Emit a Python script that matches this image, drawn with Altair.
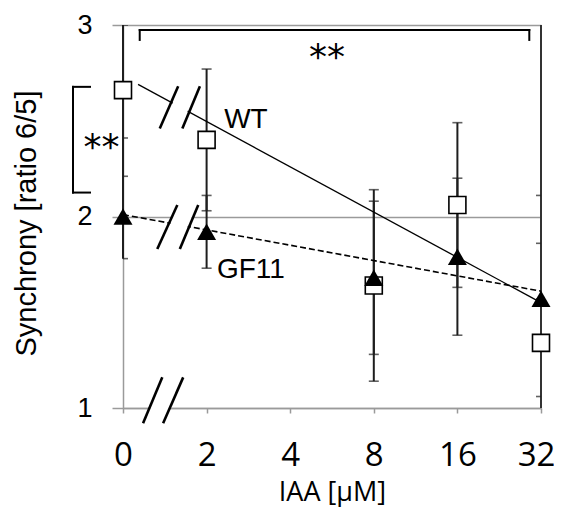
import altair as alt
import pandas as pd

# ---------------- data ----------------
conc_labels = ["0", "2", "4", "8", "16", "32"]      # IAA [µM], evenly spaced slots
conc_slot = [0, 1, 3, 4, 5]                          # slots of the measured concentrations 0,2,8,16,32
y_ticks = [1, 2, 3]

wt_mean = [2.66, 2.40, 1.64, 2.06, 1.34]
wt_low = [2.21, 2.03, 1.14, 1.63, 1.06]
wt_high = [3.00, 2.77, 2.14, 2.49, 1.86]

gf_mean = [2.00, 1.92, 1.68, 1.79, 1.57]
gf_low = [1.78, 1.73, 1.28, 1.38, 1.57]
gf_high = [2.41, 2.11, 2.08, 2.20, 2.11]

# linear trend lines (end points)
wt_trend_x = [0.18, 5.0]
wt_trend_y = [2.69, 1.55]
gf_trend_x = [0.0, 5.0]
gf_trend_y = [2.01, 1.61]

# axis-break "//" marks
slash_x1 = [0.44, 0.71, 0.41, 0.68, 0.24, 0.48]
slash_x2 = [0.66, 0.92, 0.65, 0.90, 0.47, 0.72]
slash_y1 = [2.46, 2.46, 1.83, 1.83, 0.92, 0.92]
slash_y2 = [2.68, 2.68, 2.06, 2.06, 1.16, 1.16]
gap_x1 = [0.575, 0.545, 0.36]
gap_x2 = [0.79, 0.775, 0.595]
gap_y1 = [2.46, 1.83, 0.92]
gap_y2 = [2.68, 2.06, 1.16]

# significance brackets
brk_x1 = [0.20, 0.20, 4.86, -0.598, -0.598, -0.598]
brk_x2 = [4.86, 0.20, 4.86, -0.598, -0.395, -0.395]
brk_y1 = [2.974, 2.974, 2.974, 2.677, 2.677, 2.125]
brk_y2 = [2.974, 2.922, 2.922, 2.125, 2.677, 2.125]
star_text = ["**", "**"]
star_x = [2.44, -0.257]
star_y = [2.77, 2.30]

label_text = ["WT", "GF11"]
label_x = [1.21, 1.124]
label_y = [2.46, 1.677]

# ---------------- tables ----------------
pts = pd.DataFrame({
    "slot": conc_slot * 2,
    "mean": wt_mean + gf_mean,
    "low": wt_low + gf_low,
    "high": wt_high + gf_high,
    "strain": ["WT"] * 5 + ["GF11"] * 5,
})
caps = pd.DataFrame({
    "slot": conc_slot * 4,
    "v": wt_low + wt_high + gf_low + gf_high,
})
wt_df = pd.DataFrame({"x": wt_trend_x, "y": wt_trend_y})
gf_df = pd.DataFrame({"x": gf_trend_x, "y": gf_trend_y})
slash_df = pd.DataFrame({"x": slash_x1, "x2": slash_x2, "y": slash_y1, "y2": slash_y2})
gap_df = pd.DataFrame({"x": gap_x1, "x2": gap_x2, "y": gap_y1, "y2": gap_y2})
brk_df = pd.DataFrame({"x": brk_x1, "x2": brk_x2, "y": brk_y1, "y2": brk_y2})
star_df = pd.DataFrame({"t": star_text, "x": star_x, "y": star_y})
lab_df = pd.DataFrame({"t": label_text, "x": label_x, "y": label_y})
frame_df = pd.DataFrame({"x": [5.0], "y": [1.0], "y2": [3.0]})

GRAY = "#9a9a9a"
DARK = "#1e1e1e"

xs = alt.Scale(domain=[0, 5], nice=False, zero=False)
ys = alt.Scale(domain=[1, 3], nice=False, zero=False)

label_expr = "[" + ",".join("'" + s + "'" for s in conc_labels) + "][datum.value]"

x_axis = alt.Axis(
    values=list(range(len(conc_labels))), labelExpr=label_expr, grid=False,
    tickCount=len(conc_labels),
    domainColor=GRAY, domainWidth=1.5, tickColor=GRAY, tickWidth=1.5, tickSize=5,
    labelFont="Open Sans", labelFontSize=33, labelColor="#000000",
    labelOffset={"condition": {"test": "datum.value == 5", "value": -5}, "value": 0},
    labelBaseline="alphabetic", labelPadding=52, labelFlush=False, labelOverlap=False,
    labelBound=False,
    title="IAA [μM]", titleFont="Open Sans", titleFontSize=27, titleFontWeight="normal",
    titleColor="#000000", titleY=92, titleBaseline="alphabetic", zindex=0,
)
y_axis = alt.Axis(
    values=y_ticks, tickCount=len(y_ticks), labelExpr="'' + datum.value",
    grid=True, gridColor=GRAY, gridWidth=1.5,
    domainColor=GRAY, domainWidth=1.5, tickColor=GRAY, tickWidth=1.5, tickSize=11,
    labelFont="Liberation Sans", labelFontSize=27, labelColor="#000000",
    labelPadding=20, labelFlush=False, labelOverlap=False, labelBound=False,
    title="Synchrony [ratio 6/5]", titleFont="Liberation Sans", titleFontSize=29,
    titleFontWeight="normal", titleColor="#000000", titleAngle=270, titleX=-88,
    titleY=198, titleBaseline="alphabetic", titleAlign="center", zindex=0,
)


def X(field):
    return alt.X(field, type="quantitative", scale=xs, axis=x_axis)


def Y(field):
    return alt.Y(field, type="quantitative", scale=ys, axis=y_axis)


err = alt.Chart(pts).mark_rule(color=DARK, strokeWidth=2).encode(
    x=X("slot"), y=Y("low"), y2="high:Q",
)
frame = alt.Chart(frame_df).mark_rule(color="#333333", strokeWidth=2).encode(
    x=X("x"), y=Y("y"), y2="y2:Q"
)
cap = alt.Chart(caps).mark_tick(orient="horizontal", size=10, thickness=1.6,
                                color=DARK, clip=True).encode(
    x=X("slot"), y=Y("v")
)
wt_line = alt.Chart(wt_df).mark_line(color="#000000", strokeWidth=1.3).encode(
    x=X("x"), y=Y("y")
)
gf_line = alt.Chart(gf_df).mark_line(color="#000000", strokeWidth=1.6,
                                     strokeDash=[6, 3]).encode(
    x=X("x"), y=Y("y")
)
gaps = alt.Chart(gap_df).mark_rule(color="white", strokeWidth=17).encode(
    x=X("x"), x2="x2:Q", y=Y("y"), y2="y2:Q",
)
slashes = alt.Chart(slash_df).mark_rule(color="#000000", strokeWidth=2.6).encode(
    x=X("x"), x2="x2:Q", y=Y("y"), y2="y2:Q",
)
wt_pts = alt.Chart(pts[pts.strain == "WT"]).mark_point(
    shape="square", size=289, filled=True, fill="white", stroke="#000000",
    strokeWidth=1.6, opacity=1).encode(
    x=X("slot"), y=Y("mean")
)
gf_pts = alt.Chart(pts[pts.strain == "GF11"]).mark_point(
    shape="triangle-up", size=361, filled=True, color="#000000", opacity=1).encode(
    x=X("slot"), y=Y("mean")
)
brackets = alt.Chart(brk_df).mark_rule(color="#000000", strokeWidth=2,
                                       strokeCap="square").encode(
    x=X("x"), x2="x2:Q", y=Y("y"), y2="y2:Q",
)
stars = alt.Chart(star_df).mark_text(font="DejaVu Sans", fontSize=36, align="center",
                                     baseline="alphabetic", color="#000000").encode(
    x=X("x"), y=Y("y"), text="t:N"
)
labels = alt.Chart(lab_df).mark_text(font="Liberation Sans", fontSize=28, align="left",
                                     baseline="alphabetic", color="#000000").encode(
    x=X("x"), y=Y("y"), text="t:N"
)

chart = alt.layer(
    err, frame, wt_line, gf_line, gaps, slashes, cap, wt_pts, gf_pts,
    brackets, stars, labels,
).properties(
    width=418, height=383,
    autosize=alt.AutoSizeParams(type="none"),
    padding={"left": 115, "top": 17, "right": 13, "bottom": 99},
).configure_view(stroke=None).configure(background="white")

chart.save("out.html", embed_options={"renderer": "svg", "actions": False})
